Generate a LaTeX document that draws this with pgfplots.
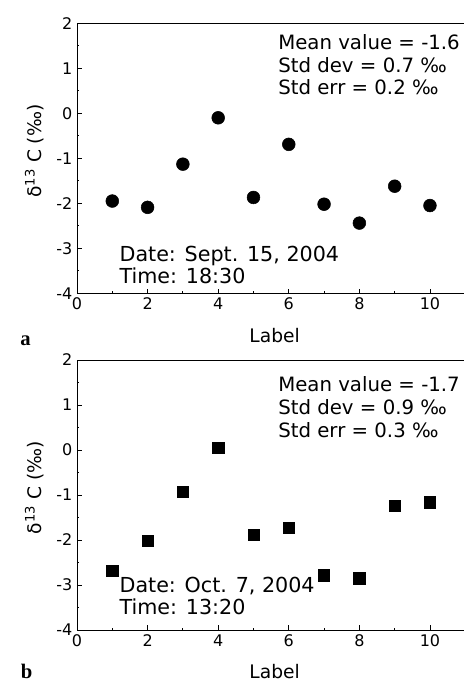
\documentclass[border=0pt]{standalone}
\usepackage{pgfplots}
\pgfplotsset{compat=1.18}
\usepackage{fontspec}
\setmainfont{DejaVu Sans}
\newfontfamily\serifb{Liberation Serif}

\pgfplotsset{
  panel/.style={
    scale only axis,
    width=290.4pt, height=202.5pt,
    xmin=0, xmax=10.97, ymin=-4, ymax=2,
    axis x line=box, axis y line=left,
    y axis line style={-},
    xtick={0,2,4,6,8,10},
    minor xtick={1,3,5,7,9},
    ytick={-4,-3,-2,-1,0,1,2},
    minor ytick={-3.5,-2.5,-1.5,-0.5,0.5,1.5},
    xtick pos=left, ytick pos=left, tick align=inside,
    major tick length=3.4pt, minor tick length=1.8pt,
    axis line style={line width=0.6pt},
    every tick/.style={line width=0.6pt, black},
    /pgf/number format/assume math mode=true,
    ticklabel style={font=\fontsize{12}{14}\selectfont},
    xlabel={Label},
    xlabel style={at={(axis description cs:0.5105,0)}, anchor=base, yshift=-36.6pt, font=\fontsize{14}{16}\selectfont},
    ylabel={δ\textsuperscript{13} C (‰)},
    ylabel style={at={(axis description cs:-0.0912,0.527)}, rotate=0, anchor=base, font=\fontsize{14}{16}\selectfont},
    clip=false,
  }
}

\begin{document}
\begin{tikzpicture}
\useasboundingbox (0,0) rectangle (348pt,512.25pt);

% Panel a
\begin{axis}[panel, at={(57.75pt,292.275pt)}, anchor=south west]
\addplot[only marks, mark=*, mark size=4.8pt, black] coordinates {
(1,-1.95) (2,-2.09) (3,-1.13) (4,-0.10) (5,-1.87)
(6,-0.69) (7,-2.02) (8,-2.44) (9,-1.62) (10,-2.05)};
\end{axis}

% Panel b
\begin{axis}[panel, at={(57.75pt,39.75pt)}, anchor=south west]
\addplot[only marks, mark=square*, mark size=4.25pt, black] coordinates {
(1,-2.68) (2,-2.02) (3,-0.93) (4,0.05) (5,-1.89)
(6,-1.73) (7,-2.78) (8,-2.85) (9,-1.24) (10,-1.16)};
\end{axis}

\begin{scope}[every node/.style={anchor=base west, inner sep=0pt, font=\fontsize{14.8}{17}\selectfont}]
\node at (208.5pt,475.3pt) {Mean value = -1.6};
\node at (208.5pt,458.0pt) {Std dev = 0.7 ‰};
\node at (208.5pt,441.0pt) {Std err = 0.2 ‰};
\node at (208.5pt,218.5pt) {Mean value = -1.7};
\node at (208.5pt,201.0pt) {Std dev = 0.9 ‰};
\node at (208.5pt,184.0pt) {Std err = 0.3 ‰};
\end{scope}
\begin{scope}[every node/.style={anchor=base west, inner sep=0pt, font=\fontsize{15.5}{18}\selectfont}]
\node at (89.5pt,316.0pt) {Date: Sept. 15, 2004};
\node at (89.5pt,299.25pt) {Time: 18:30};
\node at (89.5pt,68.0pt) {Date: Oct. 7, 2004};
\node at (89.5pt,51.0pt) {Time: 13:20};
\end{scope}

\node[anchor=base west, inner sep=0pt, font=\serifb\bfseries\fontsize{15.5}{17}\selectfont] at (15pt,252.75pt) {a};
\node[anchor=base west, inner sep=0pt, font=\serifb\bfseries\fontsize{15.5}{17}\selectfont] at (15.5pt,3pt) {b};
\end{tikzpicture}
\end{document}
